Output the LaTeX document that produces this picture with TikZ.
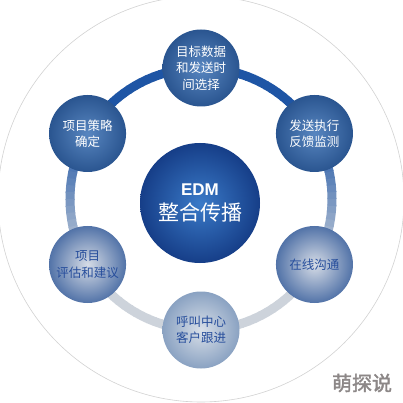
\documentclass[tikz,border=0pt]{standalone}
\usepackage{fontspec}
\newfontfamily\cjk{Noto Sans CJK SC}
\newfontfamily\cjkb[FakeBold=2]{Noto Sans CJK SC}
\newfontfamily\edmfont{Liberation Sans}

\definecolor{ringdark}{HTML}{1E55A5}
\definecolor{ringlight}{HTML}{CDD3DB}
\definecolor{hubouter}{HTML}{163E88}
\definecolor{hubinner}{HTML}{3A7AC8}
\definecolor{darkouter}{HTML}{2A5590}
\definecolor{darkinner}{HTML}{5886C0}
\definecolor{midouter}{HTML}{5273A8}
\definecolor{midinner}{HTML}{D6DCE6}
\definecolor{paleouter}{HTML}{8AA2C2}
\definecolor{paleinner}{HTML}{D8DFE8}
\definecolor{stagetext}{HTML}{274E9C}
\definecolor{markgray}{HTML}{8C8787}

\tikzset{
  stage/.style={circle, minimum size=77pt, inner sep=0pt, align=center,
    font=\cjk\fontsize{12.5}{16.5}\selectfont},
  darkstage/.style={stage, text=white, inner color=darkinner, outer color=darkouter},
  midstage/.style={stage, text=stagetext, inner color=midinner, outer color=midouter},
  palestage/.style={stage, text=stagetext, inner color=paleinner, outer color=paleouter}
}

\begin{document}
\begin{tikzpicture}[x=1pt, y=1pt]
    \clip (-201,-204) rectangle (202,199);
    \useasboundingbox (-201,-204) rectangle (202,199);
    \fill[white] (-201,-204) rectangle (202,199);

    % outer thin circle
    \draw[gray!35, line width=0.6pt] (0,0) circle[radius=203];

    % ring, dark on top, pale at the bottom
    \foreach \a in {-90,-87,...,267}{
        \pgfmathsetmacro\p{max(0,min(100,(sin(\a+1.5)+0.5)*100))}
        \draw[ringdark!\p!ringlight, line width=9pt]
            (\a:131) arc[start angle=\a, end angle=\a+3.5, radius=131];
    }

    % hub
    \node[circle, minimum size=120pt, inner sep=0pt, align=center,
          inner color=hubinner, outer color=hubouter, text=white] (hub) at (-1,-4)
        {{\edmfont\bfseries\fontsize{17}{20}\selectfont EDM}\\[7pt]
         {\cjk\fontsize{21}{24}\selectfont 整合传播}};

    % stages
    \path
    node[darkstage] (plan) at (90:131) {目标数据\\和发送时\\间选择}
    node[darkstage] (send) at (30:131) {发送执行\\反馈监测}
    node[midstage] (talk) at (-30:131) {在线沟通}
    node[palestage] (call) at (-90:131) {呼叫中心\\客户跟进}
    node[midstage] (eval) at (210:131) {项目\\评估和建议}
    node[darkstage] (goal) at (150:131) {项目策略\\确定};

    \node[text=markgray, font=\cjkb\fontsize{20}{22}\selectfont] (mark) at (161,-184) {萌探说};
\end{tikzpicture}
\end{document}
